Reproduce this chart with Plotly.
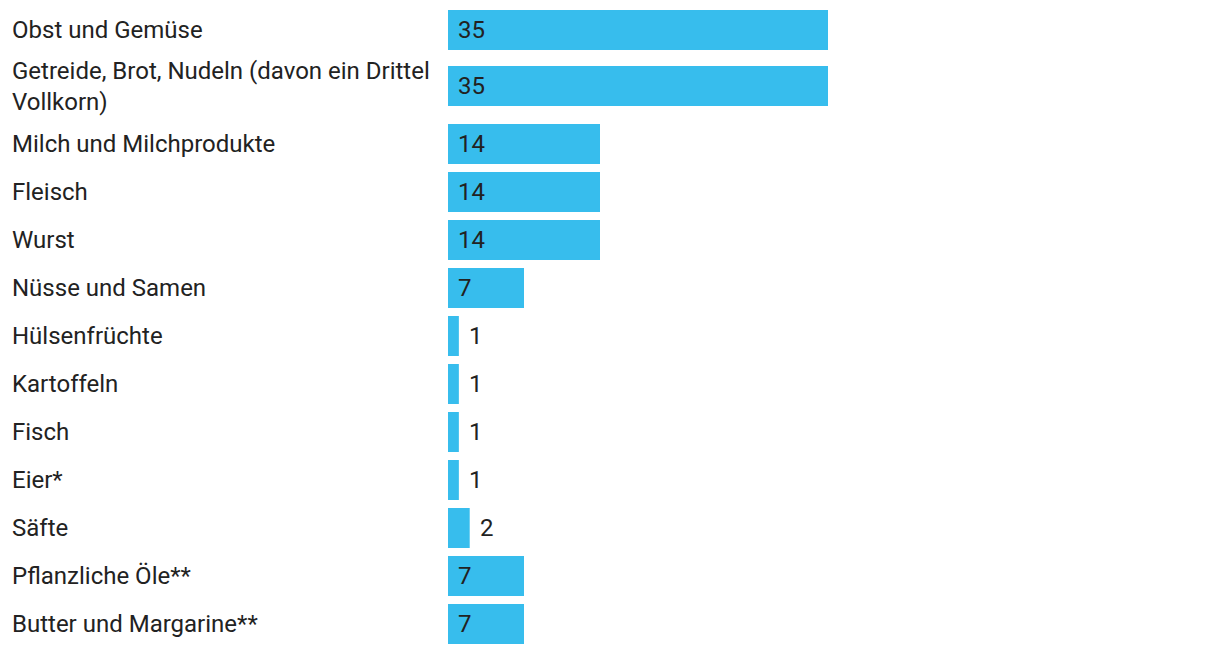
import plotly.graph_objects as go

categories = [
    "Obst und Gemüse",
    "Getreide, Brot, Nudeln (davon ein Drittel<br>Vollkorn)",
    "Milch und Milchprodukte",
    "Fleisch",
    "Wurst",
    "Nüsse und Samen",
    "Hülsenfrüchte",
    "Kartoffeln",
    "Fisch",
    "Eier*",
    "Säfte",
    "Pflanzliche Öle**",
    "Butter und Margarine**",
]
values = [35, 35, 14, 14, 14, 7, 1, 1, 1, 1, 2, 7, 7]

W, H = 1220, 654
BAR_COLOR = "#37BDED"
TEXT_COLOR = "#222222"
FONT = "Roboto, sans-serif"
FS = 24

# row centre positions (pixel-like units), growing for wrapped labels
lines = [c.count("<br>") + 1 for c in categories]
pos = []
y = 30.0
for i, n in enumerate(lines):
    if i > 0:
        y += 48 + 10 * (lines[i - 1] - 1) + 8 * (n - 1)
    pos.append(y)

fig = go.Figure(
    go.Bar(
        x=values,
        y=pos,
        orientation="h",
        width=40,
        marker=dict(color=BAR_COLOR, line=dict(width=0)),
        hoverinfo="skip",
    )
)

annotations = []
for c, v, p in zip(categories, values, pos):
    annotations.append(dict(
        x=10 / W, xref="paper", y=p, yref="y", text=c, showarrow=False,
        xanchor="left", yanchor="middle", align="left",
        font=dict(family=FONT, size=FS, color=TEXT_COLOR),
    ))
    annotations.append(dict(
        x=(v if v < 5 else 0), xref="x", y=p, yref="y", text=str(v),
        showarrow=False, xanchor="left", yanchor="middle", xshift=8,
        font=dict(family=FONT, size=FS, color=TEXT_COLOR),
    ))

plot_w = W * (1 - 448 / W)
xmax = plot_w / 380 * 35

fig.update_layout(
    width=W, height=H,
    margin=dict(l=0, r=0, t=0, b=0),
    paper_bgcolor="white", plot_bgcolor="white",
    showlegend=False,
    xaxis=dict(domain=[448 / W, 1], range=[0, xmax], visible=False, fixedrange=True),
    yaxis=dict(range=[H, 0], visible=False, fixedrange=True),
    annotations=annotations,
    font=dict(family=FONT, color=TEXT_COLOR),
)

fig.write_html("out.html", post_script="document.body.style.margin='0';",
               config={"displayModeBar": False})
